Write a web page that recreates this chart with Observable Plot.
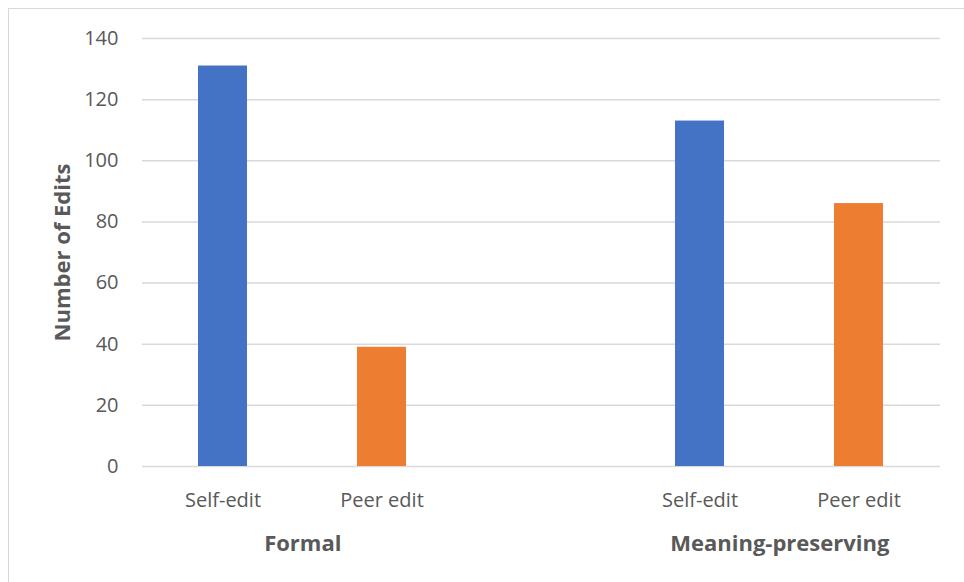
<!DOCTYPE html>
<html>
<head>
<meta charset="utf-8">
<script src="https://cdn.jsdelivr.net/npm/d3@7"></script>
<script src="https://cdn.jsdelivr.net/npm/@observablehq/plot@0.6"></script>
<style>
  html, body { margin: 0; padding: 0; background: #fff; overflow: hidden; }
  #wrap { position: relative; width: 964px; height: 582px; }
  #frame { position: absolute; left: 8px; top: 8px; width: 1200px; height: 900px;
           border-left: 1.5px solid #d9d9d9; border-top: 1.5px solid #d9d9d9; pointer-events: none; }
  #chart { position: absolute; left: 0; top: 0; }
</style>
</head>
<body>
<div id="wrap"><div id="chart"></div><div id="frame"></div></div>
<script>
// Categories on the axis (empty slot separates the two groups)
const categories = ["Formal|Self-edit", "Formal|Peer edit", "", "Meaning-preserving|Self-edit", "Meaning-preserving|Peer edit"];
const groupNames = ["Formal", "Meaning-preserving"];
const barGroups = ["Formal", "Formal", "Meaning-preserving", "Meaning-preserving"];
const editTypes = ["Self-edit", "Peer edit", "Self-edit", "Peer edit"];
const edits = [131, 39, 113, 86];
const yTicks = [0, 20, 40, 60, 80, 100, 120, 140];
const yLabel = "Number of Edits";

const colors = {"Self-edit": "#4472C4", "Peer edit": "#ED7D31"};
const data = edits.map((v, i) => ({key: barGroups[i] + "|" + editTypes[i], type: editTypes[i], value: v}));

const W = 964, H = 582, mL = 142, mR = 24, mT = 38, mB = 116;
const step = (W - mL - mR) / categories.length;
const font = "'Open Sans', 'Liberation Sans', sans-serif";

const chart = Plot.plot({
  width: W,
  height: H,
  marginLeft: mL,
  marginRight: mR,
  marginTop: mT,
  marginBottom: mB,
  style: {fontFamily: font, fontSize: "20px", color: "#595959", background: "transparent"},
  x: {domain: categories, paddingInner: 0.69, paddingOuter: 0.345, label: null},
  y: {domain: [0, 140], label: null},
  marks: [
    Plot.ruleY(yTicks, {stroke: "#d9d9d9", strokeWidth: 1.5}),
    Plot.barY(data, {x: "key", y: "value", fill: d => colors[d.type]}),
    Plot.axisY(yTicks, {tickSize: 0, tickPadding: 24, label: null, fontSize: 20}),
    Plot.axisX(categories.filter(c => c !== ""), {tickSize: 0, tickPadding: 26, label: null, fontSize: 20,
      tickFormat: d => d.split("|")[1]}),
    Plot.text(groupNames, {x: g => g + "|Self-edit", frameAnchor: "bottom", dx: step / 2, dy: 84,
      text: d => d, fontWeight: "bold", fontSize: 22, fill: "#595959"}),
    Plot.text([yLabel], {frameAnchor: "left", textAnchor: "middle", dx: -80, rotate: -90, text: d => d,
      fontWeight: "bold", fontSize: 22, fill: "#595959"})
  ]
});
document.getElementById("chart").appendChild(chart);
</script>
</body>
</html>
